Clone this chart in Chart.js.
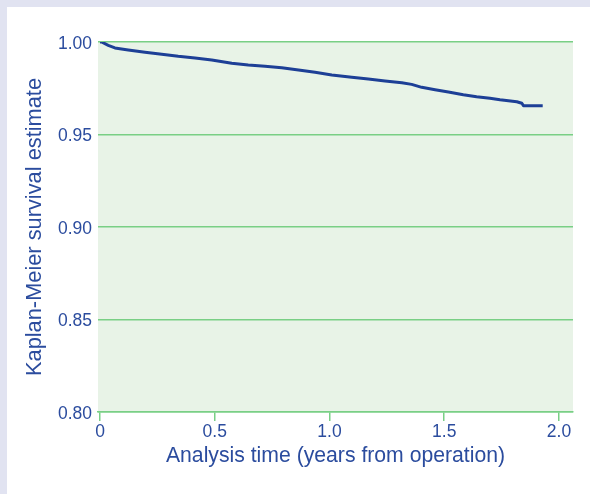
<!DOCTYPE html>
<html>
<head>
<meta charset="utf-8">
<script src="https://cdn.jsdelivr.net/npm/chart.js@4/dist/chart.umd.min.js"></script>
<style>
  html, body { margin: 0; padding: 0; background: #e1e3f1; width: 590px; height: 494px; overflow: hidden; }
  #wrap { position: absolute; left: 7px; top: 7px; width: 583px; height: 487px; background: #ffffff; }
  canvas { display: block; }
</style>
</head>
<body>
<div id="wrap"><canvas id="c" width="583" height="487"></canvas></div>
<script>
// Kaplan-Meier estimate
const years = [0, 0.007, 0.036, 0.065, 0.123, 0.196, 0.269, 0.341, 0.414, 0.487, 0.574, 0.646, 0.719, 0.792, 0.865, 0.937, 1.010, 1.097, 1.169, 1.242, 1.315, 1.358, 1.402, 1.460, 1.518, 1.583, 1.641, 1.699, 1.743, 1.816, 1.838, 1.845, 1.929];
const survival = [1.0, 1.0, 0.9982, 0.9968, 0.9957, 0.9945, 0.9934, 0.9923, 0.9914, 0.9903, 0.9885, 0.9876, 0.9869, 0.9861, 0.9849, 0.9836, 0.9822, 0.9809, 0.9800, 0.9789, 0.9780, 0.9771, 0.9755, 0.9742, 0.9730, 0.9715, 0.9704, 0.9696, 0.9688, 0.9677, 0.9669, 0.9656, 0.9656];
const xTicks = [0, 0.5, 1.0, 1.5, 2.0];
const xTickLabels = ['0', '0.5', '1.0', '1.5', '2.0'];
const yTicks = [0.80, 0.85, 0.90, 0.95, 1.00];
const yTickLabels = ['0.80', '0.85', '0.90', '0.95', '1.00'];
const xTitle = 'Analysis time (years from operation)';
const yTitle = 'Kaplan-Meier survival estimate';

const TEXT = '#2b4c9e';
const GRID = '#79cf85';
const FONT = 'Liberation Sans, Arial, Helvetica, sans-serif';

const points = years.map((t, i) => ({ x: t, y: survival[i] }));

const bgPlugin = {
  id: 'plotBg',
  beforeDraw(chart) {
    const { ctx, chartArea: a } = chart;
    ctx.save();
    ctx.fillStyle = '#e8f3e7';
    ctx.fillRect(a.left, a.top, a.right - a.left, a.bottom - a.top);
    ctx.restore();
  }
};

new Chart(document.getElementById('c'), {
  type: 'line',
  data: {
    datasets: [{
      data: points,
      tension: 0,
      borderColor: '#1d3f96',
      borderWidth: 3,
      borderJoinStyle: 'round',
      pointRadius: 0,
      fill: false
    }]
  },
  options: {
    responsive: false,
    animation: false,
    layout: { padding: { top: 35, right: 17, left: 0, bottom: 0 } },
    plugins: { legend: { display: false }, tooltip: { enabled: false } },
    scales: {
      x: {
        type: 'linear',
        min: -0.0087,
        max: 2.061,
        afterBuildTicks(s) { s.ticks = xTicks.map(v => ({ value: v })); },
        afterFit(s) { s.height = 82; },
        ticks: {
          color: TEXT,
          font: { family: FONT, size: 17.5 },
          padding: 1,
          maxRotation: 0,
          callback(v) { const i = xTicks.indexOf(v); return i >= 0 ? xTickLabels[i] : ''; }
        },
        grid: { drawOnChartArea: false, drawTicks: true, tickLength: 9, color: GRID, lineWidth: 1.5 },
        border: { display: true, color: GRID, width: 1.5 },
        title: {
          display: true, text: xTitle, color: TEXT,
          font: { family: FONT, size: 21.2 },
          padding: { top: 0, bottom: 25 }
        }
      },
      y: {
        type: 'linear',
        min: 0.8,
        max: 1.0,
        afterBuildTicks(s) { s.ticks = yTicks.map(v => ({ value: v })); },
        afterFit(s) { s.width = 91; },
        ticks: {
          color: TEXT,
          font: { family: FONT, size: 17.5 },
          padding: 6,
          labelOffset: 2,
          callback(v) { const i = yTicks.findIndex(t => Math.abs(t - v) < 1e-9); return i >= 0 ? yTickLabels[i] : ''; }
        },
        grid: { drawTicks: false, color: GRID, lineWidth: 1.5 },
        border: { display: false },
        title: {
          display: true, text: yTitle, color: TEXT,
          font: { family: FONT, size: 21.8 },
          padding: { top: 15, bottom: 0 }
        }
      }
    }
  },
  plugins: [bgPlugin]
});
</script>
</body>
</html>
